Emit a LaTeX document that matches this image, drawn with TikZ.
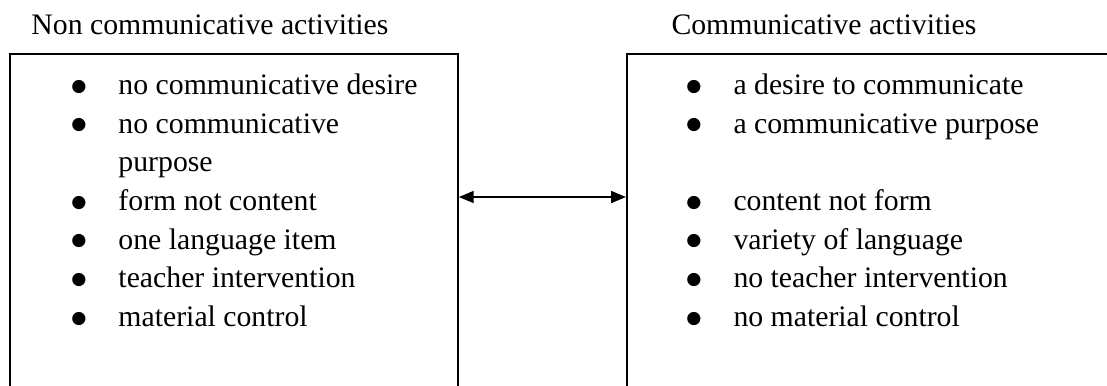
\documentclass[tikz,border=0pt]{standalone}
\usepackage{fontspec}
\setmainfont{Liberation Serif}
\newfontfamily\dotfont{DejaVu Sans}
\usetikzlibrary{arrows.meta}

\tikzset{
  txt/.style={anchor=base west, inner sep=0pt, font=\fontsize{12}{14}\selectfont},
  dot/.style={anchor=base, inner sep=0pt, font=\dotfont\fontsize{7}{8}\selectfont},
  box/.style={draw, line width=0.75pt, anchor=north west, inner sep=0pt},
  link/.style={line width=0.75pt, {Triangle[length=6pt,width=4.8pt]}-{Triangle[length=6pt,width=4.8pt]}}
}

\begin{document}
\begin{tikzpicture}[x=0.4034pt, y=-0.4034pt]
                \useasboundingbox (0,0) rectangle (1107,385);
                \clip (0,0) rectangle (1107,385);
                % the two boxes, cut off at the bottom
                \node[box, minimum width=180.7pt, minimum height=182pt] (noncomm) at (9,53) {};
                \node[box, minimum width=232pt, minimum height=182pt] (comm) at (626,53) {};
                \node[txt] (noncommtitle) at (31,34.3) {Non communicative activities};
                \node[txt] (commtitle) at (671,34.3) {Communicative activities};
                % left list
                \node[dot] (ldot1) at (79,91) {●};
                \node[txt] (ldesire) at (118,94.3) {no communicative desire};
                \node[dot] (ldot2) at (79,129.7) {●};
                \node[txt] (lpurpose) at (118,133) {no communicative};
                \node[txt] (lpurpose2) at (118,171.7) {purpose};
                \node[dot] (ldot3) at (79,207.1) {●};
                \node[txt] (lform) at (118,210.4) {form not content};
                \node[dot] (ldot4) at (79,245.8) {●};
                \node[txt] (litem) at (118,249.1) {one language item};
                \node[dot] (ldot5) at (79,284.5) {●};
                \node[txt] (lteacher) at (118,287.8) {teacher intervention};
                \node[dot] (ldot6) at (79,323.2) {●};
                \node[txt] (lmaterial) at (118,326.5) {material control};
                % right list
                \node[dot] (rdot1) at (694,91) {●};
                \node[txt] (rdesire) at (733,94.3) {a desire to communicate};
                \node[dot] (rdot2) at (694,129.7) {●};
                \node[txt] (rpurpose) at (733,133) {a communicative purpose};
                \node[dot] (rdot3) at (694,207.1) {●};
                \node[txt] (rcontent) at (733,210.4) {content not form};
                \node[dot] (rdot4) at (694,245.8) {●};
                \node[txt] (rvariety) at (733,249.1) {variety of language};
                \node[dot] (rdot5) at (694,284.5) {●};
                \node[txt] (rteacher) at (733,287.8) {no teacher intervention};
                \node[dot] (rdot6) at (694,323.2) {●};
                \node[txt] (rmaterial) at (733,326.5) {no material control};
                % arrow between the boxes
                \coordinate (linky) at (0,197);
                \draw[link] (noncomm.east |- linky) -- (comm.west |- linky);
            \end{tikzpicture}
\end{document}
